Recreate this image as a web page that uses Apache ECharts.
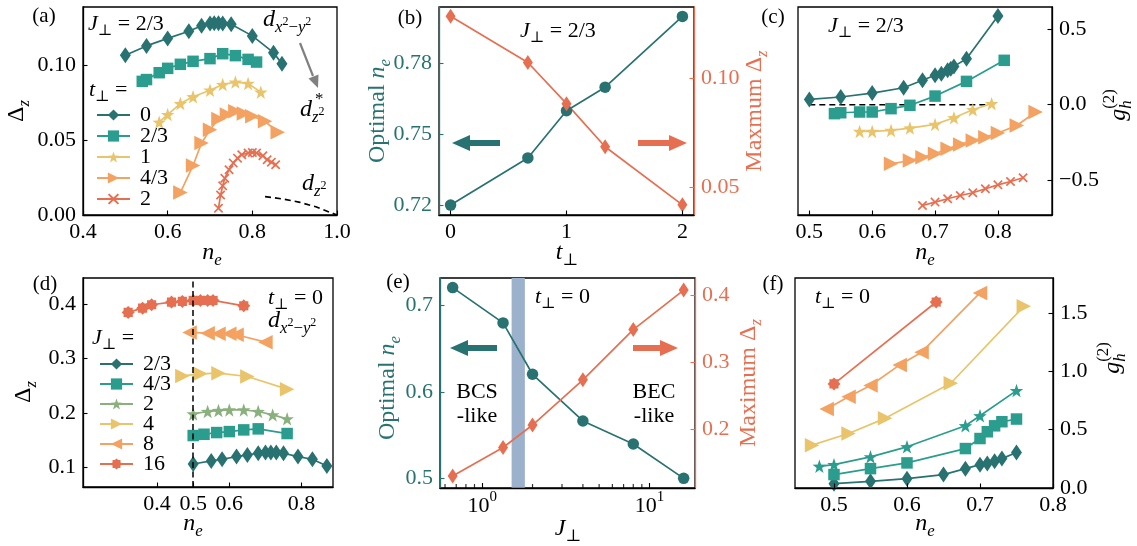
<!DOCTYPE html>
<html><head><meta charset="utf-8">
<script src="https://cdn.jsdelivr.net/npm/echarts@6/dist/echarts.min.js"></script>
<style>html,body{margin:0;padding:0;background:#fff}#c{width:1137px;height:546px}</style>
</head><body><div id="c"></div>
<script>
// ================= DATA =================
// (a) J_perp = 2/3 : Delta_z vs n_e for several t_perp
const a_t0_x  = [0.50,0.55,0.60,0.65,0.68,0.70,0.71,0.72,0.73,0.75,0.80,0.85,0.87];
const a_t0_y  = [0.1067,0.1130,0.1180,0.1228,0.1265,0.1280,0.1282,0.1282,0.1280,0.1275,0.1197,0.1085,0.1011];
const a_t23_x = [0.54,0.55,0.58,0.60,0.63,0.66,0.70,0.73,0.76,0.79,0.81];
const a_t23_y = [0.0893,0.0905,0.0951,0.0980,0.1007,0.1027,0.1045,0.1078,0.1065,0.1040,0.1022];
const a_t1_x  = [0.58,0.60,0.63,0.66,0.70,0.73,0.76,0.79,0.82];
const a_t1_y  = [0.0620,0.0671,0.0745,0.0790,0.0834,0.0872,0.0888,0.0879,0.0821];
const a_t43_x = [0.63,0.66,0.68,0.70,0.72,0.74,0.76,0.78,0.80,0.83,0.86];
const a_t43_y = [0.0150,0.0331,0.0481,0.0570,0.0642,0.0671,0.0694,0.0678,0.0660,0.0626,0.0553];
const a_t2_x  = [0.72,0.725,0.73,0.735,0.745,0.755,0.765,0.775,0.79,0.80,0.81,0.825,0.835,0.845,0.855];
const a_t2_y  = [0.0045,0.0134,0.0195,0.0246,0.0302,0.0347,0.0380,0.0403,0.0414,0.0418,0.0414,0.0396,0.0369,0.0353,0.0336];
const a_dz2_x = [0.83,0.87,0.91,0.95,1.00];
const a_dz2_y = [0.0123,0.0108,0.0086,0.0055,0.0000];
const a_names = ['0','2/3','1','4/3','2'];
// (b) optimal n_e and maximum Delta_z vs t_perp
const b_t     = [0, 2/3, 1, 4/3, 2];
const b_opt   = [0.720,0.740,0.760,0.770,0.800];
const b_max   = [0.1287,0.1074,0.0884,0.0685,0.0417];
// (c) g_h^(2) vs n_e, J_perp = 2/3
const c_t0_x  = [0.50,0.55,0.60,0.65,0.68,0.70,0.71,0.72,0.725,0.73,0.75,0.80];
const c_t0_y  = [0.035,0.051,0.077,0.112,0.161,0.194,0.205,0.227,0.238,0.253,0.304,0.586];
const c_t23_x = [0.54,0.55,0.58,0.60,0.63,0.66,0.70,0.75,0.81];
const c_t23_y = [-0.059,-0.053,-0.048,-0.048,-0.026,-0.004,0.057,0.154,0.293];
const c_t1_x  = [0.58,0.60,0.63,0.66,0.70,0.73,0.76,0.79];
const c_t1_y  = [-0.176,-0.176,-0.170,-0.154,-0.130,-0.086,-0.033,0.007];
const c_t43_x = [0.63,0.66,0.68,0.70,0.72,0.74,0.76,0.78,0.80,0.83,0.86];
const c_t43_y = [-0.390,-0.368,-0.346,-0.324,-0.291,-0.262,-0.236,-0.214,-0.187,-0.137,-0.048];
const c_t2_x  = [0.68,0.70,0.72,0.74,0.76,0.78,0.80,0.82,0.84];
const c_t2_y  = [-0.665,-0.643,-0.621,-0.599,-0.581,-0.555,-0.529,-0.507,-0.482];
const c_zero_x = [0.50,0.79];
const c_zero_y = [0,0];
// (d) t_perp = 0 : Delta_z vs n_e for several J_perp
const d_j23_x = [0.50,0.55,0.58,0.62,0.65,0.68,0.70,0.715,0.73,0.75,0.79,0.83,0.87];
const d_j23_y = [0.106,0.1117,0.1147,0.1196,0.1227,0.1258,0.127,0.127,0.127,0.1258,0.1196,0.1147,0.1025];
const d_j43_x = [0.50,0.53,0.565,0.60,0.64,0.68,0.76];
const d_j43_y = [0.1583,0.1607,0.1638,0.1656,0.1687,0.1706,0.162];
const d_j2_x  = [0.50,0.54,0.57,0.60,0.64,0.68,0.72,0.76];
const d_j2_y  = [0.198,0.2025,0.2043,0.2055,0.2055,0.2025,0.1963,0.189];
const d_j4_x  = [0.47,0.52,0.57,0.65,0.76];
const d_j4_y  = [0.268,0.2718,0.273,0.2669,0.2436];
const d_j8_x  = [0.49,0.54,0.57,0.60,0.62,0.70];
const d_j8_y  = [0.3479,0.3466,0.3454,0.3454,0.3436,0.330];
const d_j16_x = [0.32,0.36,0.385,0.44,0.47,0.50,0.52,0.54,0.555,0.64];
const d_j16_y = [0.3847,0.3926,0.3988,0.4037,0.405,0.4067,0.4067,0.4067,0.4067,0.3969];
const d_vline = 0.5;
const d_names = ['2/3','4/3','2','4','8','16'];
// (e) optimal n_e and maximum Delta_z vs J_perp
const e_J     = [2/3, 4/3, 2, 4, 8, 16];
const e_opt   = [0.7209,0.680,0.6205,0.5664,0.5398,0.500];
const e_max   = [0.130,0.1725,0.206,0.2735,0.3485,0.4075];
const e_band  = [1.5, 1.8];
// (f) g_h^(2) vs n_e, t_perp = 0
const f_j23_x = [0.50,0.55,0.60,0.65,0.68,0.70,0.71,0.72,0.73,0.75];
const f_j23_y = [0.037,0.057,0.080,0.115,0.166,0.200,0.209,0.229,0.252,0.304];
const f_j43_x = [0.50,0.55,0.60,0.68,0.70,0.71,0.72,0.73,0.75];
const f_j43_y = [0.115,0.166,0.215,0.338,0.424,0.482,0.533,0.568,0.591];
const f_j2_x  = [0.48,0.50,0.55,0.60,0.68,0.70,0.75];
const f_j2_y  = [0.186,0.200,0.267,0.353,0.533,0.619,0.835];
const f_j4_x  = [0.47,0.52,0.57,0.66,0.76];
const f_j4_y  = [0.367,0.467,0.597,0.898,1.557];
const f_j8_x  = [0.49,0.52,0.55,0.59,0.62,0.70];
const f_j8_y  = [0.677,0.783,0.878,1.055,1.164,1.672];
const f_j16_x = [0.50,0.64];
const f_j16_y = [0.892,1.594];
// tick values
const a_xticks = [0.4,0.6,0.8,1.0], a_yticks = [0,0.05,0.10];
const b_xticks = [0,1,2], b_yticksL = [0.72,0.75,0.78], b_yticksR = [0.05,0.10];
const c_xticks = [0.5,0.6,0.7,0.8], c_yticks = [-0.5,0,0.5];
const d_xticks = [0.4,0.5,0.6,0.8], d_yticks = [0.1,0.2,0.3,0.4];
const e_yticksL = [0.5,0.6,0.7], e_yticksR = [0.2,0.3,0.4];
const e_minor = [0.6,0.7,0.8,0.9,2,3,4,5,6,7,8,9];
const f_xticks = [0.5,0.6,0.7,0.8], f_yticks = [0,0.5,1.0,1.5];

// ================= STYLE =================
const FF = '"Liberation Serif","DejaVu Serif",serif';
const dark='#287271', teal='#2a9d8f', green='#8ab17d', yel='#e9c46a', ora='#f4a261', red='#e76f51';
const STAR = 'path://M0,-10 L2.35,-3.24 L9.51,-3.09 L3.8,1.24 L5.88,8.09 L0,4 L-5.88,8.09 L-3.8,1.24 L-9.51,-3.09 L-2.35,-3.24 Z';
const XMARK = 'path://M-10,-7.5 L-7.5,-10 L0,-2.5 L7.5,-10 L10,-7.5 L2.5,0 L10,7.5 L7.5,10 L0,2.5 L-7.5,10 L-10,7.5 L-2.5,0 Z';
const GEAR = (function(){let s='path://';for(let k=0;k<16;k++){const r=k%2?7.6:10, a=k*Math.PI/8;s+=(k?'L':'M')+(r*Math.cos(a)).toFixed(2)+','+(r*Math.sin(a)).toFixed(2)+' ';}return s+'Z';})();

function zip(xs, ys){ return xs.map((x,i)=>[x, ys[i]]); }
function S(name, xi, yi, xs, ys, color, sym, size, extra){
  return Object.assign({type:'line', name, xAxisIndex:xi, yAxisIndex:yi, data:zip(xs,ys),
    symbol:sym, symbolSize:size, showSymbol:true, itemStyle:{color, opacity:1},
    lineStyle:{color, width:1.7}, animation:false, z:3, emphasis:{disabled:true}}, extra||{});
}
const DIA=['diamond',[11,16]], SQ=['rect',11.5], ST=[STAR,13.5], RT=['triangle',14.5], XM=[XMARK,9.5], GE=[GEAR,13], CI=['circle',11.5], DIAs=['diamond',[10,15]];

function ax(type, gi, min, max, ticks, fmt, color, extra){
  const o = {type:'value', gridIndex:gi, min, max, z:4,
    axisLine:{show:true, onZero:false, lineStyle:{color, width:1.3}},
    axisTick:{show:true, inside:true, length:4.5, customValues:ticks, lineStyle:{color, width:1.1}},
    axisLabel:{customValues:ticks, formatter:fmt, margin:7, color, fontSize:22, fontFamily:FF},
    splitLine:{show:false}};
  return Object.assign(o, extra||{});
}
const f1 = v=>v.toFixed(1), f2 = v=>v.toFixed(2), f0 = v=>v.toFixed(0);
const fm = v=>(v<0?'\u2212':'')+Math.abs(v).toFixed(1);

const grids = [
  {left:83, top:7, width:254, height:208},
  {left:439, top:7, width:255, height:208},
  {left:798, top:7, width:254, height:208},
  {left:83, top:278, width:250, height:209},
  {left:440, top:278, width:255, height:210},
  {left:795, top:278, width:258, height:210}
].map(g=>Object.assign(g,{show:true, borderColor:'#000', borderWidth:1.3, backgroundColor:'transparent', containLabel:false}));

function xl(t, f){ return {customValues:t, formatter:f, margin:6, color:'#000', fontSize:22, fontFamily:FF}; }
const xAxes = [
  ax('x',0,0.4,1.0,a_xticks,f1,'#000',{axisLabel:xl(a_xticks,f1)}),
  ax('x',1,-0.1,2.1,b_xticks,f0,'#000',{axisLabel:xl(b_xticks,f0)}),
  ax('x',2,0.482,0.886,c_xticks,f1,'#000',{axisLabel:xl(c_xticks,f1)}),
  ax('x',3,0.195,0.887,d_xticks,f1,'#000',{axisLabel:xl(d_xticks,f1)}),
  {type:'log', logBase:10, gridIndex:4, min:0.56, max:18.7, z:4,
    axisLine:{show:true, onZero:false, lineStyle:{color:'#000', width:1.3}},
    axisTick:{show:true, inside:true, length:5, lineStyle:{color:'#000', width:1.1}},
    axisLabel:{margin:2, color:'#000', fontFamily:FF, showMinLabel:false, showMaxLabel:false,
      formatter:function(v){const l=Math.log10(v); if(Math.abs(l-Math.round(l))>1e-6) return ''; return '{b|10}{p|'+Math.round(l)+'}';},
      rich:{b:{fontSize:22,fontFamily:FF,color:'#000',lineHeight:32,verticalAlign:'middle'},p:{fontSize:15,fontFamily:FF,color:'#000',lineHeight:14,verticalAlign:'top'}}},
    splitLine:{show:false}},
  ax('x',5,0.4466,0.8,f_xticks,f1,'#000',{axisLabel:xl(f_xticks,f1)})
];
const yAxes = [
  ax('y',0,0,0.139,a_yticks,f2,'#000'),
  ax('y',1,0.7158,0.804,b_yticksL,f2,dark),
  ax('y',1,0.037,0.133,b_yticksR,f2,red,{position:'right'}),
  ax('y',2,-0.728,0.645,c_yticks,fm,'#000',{position:'right'}),
  ax('y',3,0.0637,0.448,d_yticks,f1,'#000'),
  ax('y',4,0.4888,0.732,e_yticksL,f1,dark),
  ax('y',4,0.112,0.4255,e_yticksR,f1,red,{position:'right'}),
  ax('y',5,0,1.8,f_yticks,f1,'#000',{position:'right'})
];

const series = [
  // (a)
  S('a:0',0,0,a_t0_x,a_t0_y,dark,...DIA),
  S('a:2/3',0,0,a_t23_x,a_t23_y,teal,...SQ),
  S('a:1',0,0,a_t1_x,a_t1_y,yel,...ST),
  S('a:4/3',0,0,a_t43_x,a_t43_y,ora,...RT,{symbolRotate:-90}),
  S('a:2',0,0,a_t2_x,a_t2_y,red,...XM),
  S('a:dz2',0,0,a_dz2_x,a_dz2_y,'#000','none',0,{lineStyle:{color:'#000',width:1.6,type:[6,4]}}),
  // (b)
  S('b:opt',1,1,b_t,b_opt,dark,...CI),
  S('b:max',1,2,b_t,b_max,red,...DIAs),
  // (c)
  S('c:zero',2,3,c_zero_x,c_zero_y,'#000','none',0,{lineStyle:{color:'#000',width:1.6,type:[6,4]},z:2}),
  S('c:0',2,3,c_t0_x,c_t0_y,dark,...DIA),
  S('c:2/3',2,3,c_t23_x,c_t23_y,teal,...SQ),
  S('c:1',2,3,c_t1_x,c_t1_y,yel,...ST),
  S('c:4/3',2,3,c_t43_x,c_t43_y,ora,...RT,{symbolRotate:-90}),
  S('c:2',2,3,c_t2_x,c_t2_y,red,...XM),
  // (d)
  S('d:2/3',3,4,d_j23_x,d_j23_y,dark,...DIA,{markLine:{silent:true,symbol:'none',label:{show:false},lineStyle:{color:'#000',width:1.5,type:[6,3.5]},data:[{xAxis:d_vline}],animation:false}}),
  S('d:4/3',3,4,d_j43_x,d_j43_y,teal,...SQ),
  S('d:2',3,4,d_j2_x,d_j2_y,green,...ST),
  S('d:4',3,4,d_j4_x,d_j4_y,yel,...RT,{symbolRotate:-90}),
  S('d:8',3,4,d_j8_x,d_j8_y,ora,...RT,{symbolRotate:90}),
  S('d:16',3,4,d_j16_x,d_j16_y,red,...GE),
  // (e)
  {type:'line', name:'e:band', xAxisIndex:4, yAxisIndex:5, data:[], z:1, silent:true,
    markArea:{silent:true, itemStyle:{color:'#9cb1cc'}, data:[[{xAxis:e_band[0]},{xAxis:e_band[1]}]], animation:false}},
  S('e:opt',4,5,e_J,e_opt,dark,...CI),
  S('e:max',4,6,e_J,e_max,red,...DIAs),
  {type:'scatter', name:'e:minor', xAxisIndex:4, yAxisIndex:5, data:e_minor.map(v=>[v,0.4888]),
    symbol:'rect', symbolSize:[1.2,4], symbolOffset:[0,-2], itemStyle:{color:'#000'}, silent:true, z:5, animation:false},
  // (f)
  S('f:2/3',5,7,f_j23_x,f_j23_y,dark,...DIA),
  S('f:4/3',5,7,f_j43_x,f_j43_y,teal,...SQ),
  S('f:2',5,7,f_j2_x,f_j2_y,teal,...ST),
  S('f:4',5,7,f_j4_x,f_j4_y,yel,...RT,{symbolRotate:-90}),
  S('f:8',5,7,f_j8_x,f_j8_y,ora,...RT,{symbolRotate:90}),
  S('f:16',5,7,f_j16_x,f_j16_y,red,...GE)
];

const legStyle = {orient:'vertical', padding:0, itemWidth:33, itemHeight:14, selectedMode:false,
  formatter:n=>n.split(':')[1], textStyle:{fontFamily:FF, fontSize:22, color:'#000', lineHeight:14, padding:[0,0,0,5]}};
const legend = [
  Object.assign({data:a_names.map(n=>'a:'+n), left:96, top:104, itemGap:-1}, legStyle),
  Object.assign({data:d_names.map(n=>'d:'+n), left:99, top:353, itemGap:-2}, legStyle)
];

// ================= TEXT (math-like) =================
const mc = document.createElement('canvas').getContext('2d');
function tw(t,s,it){ mc.font=(it?'italic ':'')+s+'px '+FF; return mc.measureText(t).width; }
const N=t=>({t}), I=t=>({t,it:1}), Sb=(t,it)=>({t,it,k:.7,dy:.3}), Sp=(t,it,nx)=>({t,it,k:.7,dy:-.4,nx}), SS=t=>({t,k:.5,dy:.06});
function mt(x,y,parts,size,color,o){
  o=o||{}; let cx=0; const ch=[];
  parts.forEach(p=>{
    const s=size*(p.k||1);
    ch.push({type:'text', x:cx+(p.ox||0)*size, y:(p.dy||0)*size, silent:true,
      style:{text:p.t, fontSize:s, fontFamily:FF, fontStyle:p.it?'italic':'normal', fill:color,
        align:'left', textAlign:'left', verticalAlign:'middle', textVerticalAlign:'middle'}});
    if(!p.nx) cx+=tw(p.t,s,p.it);
  });
  const sh=o.align==='left'?0:-cx/2;
  ch.forEach(c=>c.x+=sh);
  return {type:'group', x, y, rotation:o.rot||0, children:ch, silent:true};
}
const R90=Math.PI/2;
function arrow(x1,x2,y,color,dir){
  const hl=18, hh=8, sh=3; let pts;
  if(dir<0) pts=[[x1,y],[x1+hl,y-hh],[x1+hl,y-sh],[x2,y-sh],[x2,y+sh],[x1+hl,y+sh],[x1+hl,y+hh]];
  else pts=[[x2,y],[x2-hl,y-hh],[x2-hl,y-sh],[x1,y-sh],[x1,y+sh],[x2-hl,y+sh],[x2-hl,y+hh]];
  return {type:'polygon', shape:{points:pts}, style:{fill:color}, silent:true};
}
const T=22, TT=24;
const dx2y2 = [I('d'),Sb('x',1),SS('2'),Sb('\u2212'),Sb('y',1),SS('2')];
const texts = [
  // (a)
  mt(44,16,[N('(a)')],21,'#000'),
  mt(88,24,[I('J'),Sb('\u22a5'),N(' = 2/3')],T,'#000',{align:'left'}),
  mt(263,20,dx2y2,24,'#000',{align:'left'}),
  {type:'line', shape:{x1:300,y1:43,x2:313,y2:76}, style:{stroke:'#808080',lineWidth:2.2}, silent:true},
  {type:'polygon', shape:{points:[[318,88],[308.5,78.5],[318.5,74.5]]}, style:{fill:'#808080'}, silent:true},
  mt(300,110,[I('d'),{t:'*',k:.7,dy:-.45,nx:1,ox:.12},Sb('z',1),SS('2')],24,'#000',{align:'left'}),
  mt(302,184,[I('d'),Sb('z',1),SS('2')],24,'#000',{align:'left'}),
  mt(89,90,[I('t'),Sb('\u22a5'),N(' =')],T,'#000',{align:'left'}),
  mt(17,111,[N('\u0394'),Sb('z',1)],TT,'#000',{rot:R90}),
  mt(212,253,[I('n'),Sb('e',1)],TT,'#000'),
  // (b)
  mt(410,18,[N('(b)')],21,'#000'),
  mt(520,31,[I('J'),Sb('\u22a5'),N(' = 2/3')],T,'#000',{align:'left'}),
  mt(378,111,[N('Optimal '),I('n'),Sb('e',1)],TT,dark,{rot:R90}),
  mt(755,111,[N('Maxmum '),N('\u0394'),Sb('z',1)],TT,red,{rot:R90}),
  mt(567,253,[I('t'),Sb('\u22a5')],TT,'#000'),
  arrow(452,500,143,dark,-1),
  arrow(638,687,143,red,1),
  // (c)
  mt(773,17,[N('(c)')],21,'#000'),
  mt(828,26,[I('J'),Sb('\u22a5'),N(' = 2/3')],T,'#000',{align:'left'}),
  mt(1119,105,[I('g'),{t:'h',it:1,k:.7,dy:.3,nx:1},Sp('(2)')],TT,'#000',{rot:R90}),
  mt(925,253,[I('n'),Sb('e',1)],TT,'#000'),
  // (d)
  mt(45,284,[N('(d)')],21,'#000'),
  mt(268,298,[I('t'),Sb('\u22a5'),N(' = 0')],T,'#000',{align:'left'}),
  mt(268,321,dx2y2,24,'#000',{align:'left'}),
  mt(92,338,[I('J'),Sb('\u22a5'),N(' =')],T,'#000',{align:'left'}),
  mt(24,392,[N('\u0394'),Sb('z',1)],TT,'#000',{rot:R90}),
  mt(193,524,[I('n'),Sb('e',1)],TT,'#000'),
  // (e)
  mt(398,282,[N('(e)')],21,'#000'),
  mt(535,297,[I('t'),Sb('\u22a5'),N(' = 0')],T,'#000',{align:'left'}),
  mt(477,392,[N('BCS')],T,'#000'),
  mt(477,416,[N('-like')],T,'#000'),
  mt(654,392,[N('BEC')],T,'#000'),
  mt(654,416,[N('-like')],T,'#000'),
  arrow(450,497,348,dark,-1),
  arrow(633,678,348,red,1),
  mt(388,388,[N('Optimal '),I('n'),Sb('e',1)],TT,dark,{rot:R90}),
  mt(749,383,[N('Maximum '),N('\u0394'),Sb('z',1)],TT,red,{rot:R90}),
  mt(568,529,[I('J'),Sb('\u22a5')],TT,'#000'),
  // (f)
  mt(773,284,[N('(f)')],21,'#000'),
  mt(815,297,[I('t'),Sb('\u22a5'),N(' = 0')],T,'#000',{align:'left'}),
  mt(1113,358,[I('g'),{t:'h',it:1,k:.7,dy:.3,nx:1},Sp('(2)')],TT,'#000',{rot:R90}),
  mt(925,524,[I('n'),Sb('e',1)],TT,'#000')
];

const chart = echarts.init(document.getElementById('c'), null, {renderer:'canvas'});
chart.setOption({
  animation:false, backgroundColor:'#fff',
  grid:grids, xAxis:xAxes, yAxis:yAxes, series, legend,
  graphic:{elements:texts}
});
</script></body></html>
